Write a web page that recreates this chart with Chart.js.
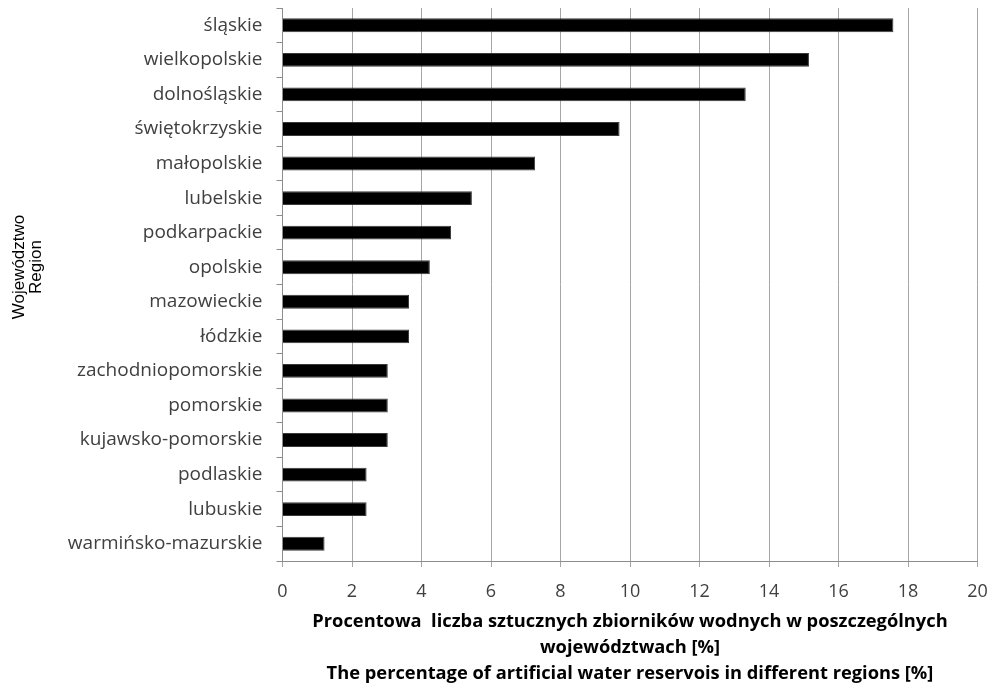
<!DOCTYPE html>
<html>
<head>
<meta charset="utf-8">
<script src="https://cdn.jsdelivr.net/npm/chart.js@4.4.1/dist/chart.umd.min.js"></script>
<style>
  html, body { margin: 0; padding: 0; background: #fff; }
  #wrap { width: 991px; height: 687px; position: relative; }
</style>
</head>
<body>
<div id="wrap"><canvas id="c"></canvas></div>
<script>
// Regions (voivodeships), ordered from largest share to smallest
const regions = [
  'śląskie', 'wielkopolskie', 'dolnośląskie', 'świętokrzyskie', 'małopolskie',
  'lubelskie', 'podkarpackie', 'opolskie', 'mazowieckie', 'łódzkie',
  'zachodniopomorskie', 'pomorskie', 'kujawsko-pomorskie', 'podlaskie',
  'lubuskie', 'warmińsko-mazurskie'
];
// Share of artificial water reservoirs in each region [%]
const shares = [
  17.58, 15.15, 13.33, 9.70, 7.27,
  5.45, 4.85, 4.24, 3.64, 3.64,
  3.03, 3.03, 3.03, 2.42,
  2.42, 1.21
];
// Value axis range and step
const xMin = 0, xMax = 20, xStep = 2;
// Axis titles
const yTitle = ['Województwo', 'Region'];
const xTitle = [
  'Procentowa  liczba sztucznych zbiorników wodnych w poszczególnych',
  'województwach [%]',
  'The percentage of artificial water reservois in different regions [%]'
];

const labelFont = "'Open Sans', 'Noto Sans', sans-serif";

// Rotated two-line title for the category axis, drawn at the left edge
const yTitlePlugin = {
  id: 'yTitle',
  afterDraw(chart) {
    const ctx = chart.ctx;
    ctx.save();
    ctx.translate(0, 267);
    ctx.rotate(-Math.PI / 2);
    ctx.fillStyle = '#000';
    ctx.font = "17px 'Liberation Sans', Arial, sans-serif";
    ctx.textAlign = 'center';
    ctx.textBaseline = 'alphabetic';
    ctx.fillText(yTitle[0], 0, 23.5);
    ctx.fillText(yTitle[1], 0, 40.5);
    ctx.restore();
  }
};

new Chart(document.getElementById('c'), {
  type: 'bar',
  data: {
    labels: regions,
    datasets: [{
      data: shares,
      backgroundColor: '#000000',
      borderColor: '#3a3a3a',
      borderWidth: 1,
      categoryPercentage: 1.0,
      barPercentage: 0.4
    }]
  },
  plugins: [yTitlePlugin],
  options: {
    indexAxis: 'y',
    responsive: true,
    maintainAspectRatio: false,
    animation: false,
    layout: { padding: { top: 8, right: 13.5, left: 0, bottom: 0 } },
    plugins: {
      legend: { display: false },
      tooltip: { enabled: false }
    },
    scales: {
      x: {
        min: xMin,
        max: xMax,
        afterFit(scale) {
          scale.height = 126;
          scale.paddingLeft = 0;
          scale.paddingRight = 0;
        },
        ticks: {
          stepSize: xStep,
          color: '#404040',
          font: { family: labelFont, size: 18 },
          padding: 14
        },
        grid: {
          color: '#a6a6a6',
          lineWidth: 1,
          tickLength: 6,
          drawTicks: true
        },
        border: { color: '#8c8c8c' },
        title: {
          display: true,
          text: xTitle,
          color: '#000',
          font: { family: labelFont, size: 18.3, weight: 'bold', lineHeight: 1.43 },
          padding: { top: 0, bottom: 0 }
        }
      },
      y: {
        afterFit(scale) {
          scale.width = 282.5;
          scale.paddingTop = 0;
          scale.paddingBottom = 0;
        },
        ticks: {
          color: '#404040',
          font: { family: labelFont, size: 19 },
          padding: 14
        },
        grid: {
          offset: true,
          drawOnChartArea: false,
          drawTicks: true,
          tickLength: 6,
          color: '#8c8c8c'
        },
        border: { color: '#8c8c8c' }
      }
    }
  }
});
</script>
</body>
</html>
